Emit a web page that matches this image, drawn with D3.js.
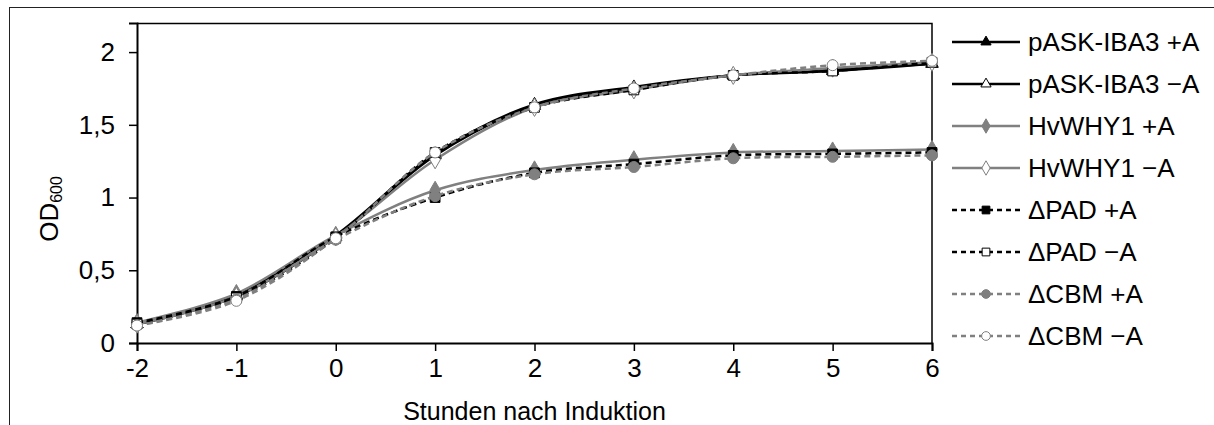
<!DOCTYPE html>
<html>
<head>
<meta charset="utf-8">
<script src="https://cdn.jsdelivr.net/npm/d3@7"></script>
<style>
  body { margin: 0; background: #fff; }
  text { font-family: "Liberation Sans", Arial, sans-serif; fill: #000; }
</style>
</head>
<body>
<div id="chart-area"></div>
<script>
// data
const hours = [-2, -1, 0, 1, 2, 3, 4, 5, 6];
const yTicks = [0, 0.5, 1, 1.5, 2];

const seriesNames = ["pASK-IBA3 +A", "pASK-IBA3 \u2212A", "HvWHY1 +A", "HvWHY1 \u2212A",
                     "\u0394PAD +A", "\u0394PAD \u2212A", "\u0394CBM +A", "\u0394CBM \u2212A"];

const paskPlus   = [0.13, 0.33, 0.74, 1.30, 1.64, 1.76, 1.84, 1.87, 1.92];
const paskMinus  = [0.13, 0.32, 0.73, 1.29, 1.63, 1.75, 1.84, 1.88, 1.92];
const why1Plus   = [0.14, 0.34, 0.74, 1.05, 1.19, 1.26, 1.31, 1.32, 1.33];
const why1Minus  = [0.13, 0.32, 0.73, 1.26, 1.62, 1.74, 1.84, 1.89, 1.93];
const padPlus    = [0.14, 0.32, 0.73, 1.00, 1.17, 1.23, 1.29, 1.30, 1.31];
const padMinus   = [0.13, 0.31, 0.72, 1.31, 1.62, 1.74, 1.84, 1.87, 1.93];
const cbmPlus    = [0.12, 0.30, 0.71, 1.01, 1.16, 1.21, 1.27, 1.28, 1.29];
const cbmMinus   = [0.12, 0.29, 0.72, 1.31, 1.62, 1.75, 1.84, 1.91, 1.94];

const allValues = [paskPlus, paskMinus, why1Plus, why1Minus, padPlus, padMinus, cbmPlus, cbmMinus];

// styles per series
const gray = "#808080";
const styles = [
  { line: "#000", dash: null, sym: d3.symbolTriangle, fill: "#000", stroke: "#000" },
  { line: "#000", dash: null, sym: d3.symbolTriangle, fill: "#fff", stroke: "#000" },
  { line: gray,   dash: null, sym: d3.symbolDiamond,  fill: gray,   stroke: gray },
  { line: gray,   dash: null, sym: d3.symbolDiamond,  fill: "#fff", stroke: gray },
  { line: "#000", dash: "6,4", sym: d3.symbolSquare,  fill: "#000", stroke: "#000" },
  { line: "#000", dash: "6,4", sym: d3.symbolSquare,  fill: "#fff", stroke: "#000" },
  { line: gray,   dash: "6,4", sym: d3.symbolCircle,  fill: gray,   stroke: gray },
  { line: gray,   dash: "6,4", sym: d3.symbolCircle,  fill: "#fff", stroke: gray }
];

const series = seriesNames.map((name, i) => ({
  name: name,
  style: styles[i],
  points: hours.map((h, j) => ({ h: h, v: allValues[i][j] }))
}));

// margins
let margin = { lft: 137, top: 23 };
let width = 932 - margin.lft;
let height = 343 - margin.top;

let svg = d3.select("#chart-area")
  .append("svg")
    .attr("width", 1214)
    .attr("height", 425);

// outer frame
svg.append("rect")
  .attr("x", 9.5).attr("y", 7.5)
  .attr("width", 1400).attr("height", 600)
  .attr("fill", "none")
  .attr("stroke", "#222")
  .attr("stroke-width", 1);

let g = svg.append("g")
  .attr("transform", `translate(${margin.lft}, ${margin.top})`);

let x = d3.scaleLinear().domain([-2, 6]).range([0, width]);
let y = d3.scaleLinear().domain([0, 2.2]).range([height, 0]);

// plot box (top + right)
g.append("path")
  .attr("d", `M0,0.5H${width}V${height}`)
  .attr("fill", "none")
  .attr("stroke", "#000")
  .attr("stroke-width", 1.5);

// axes
let xAxisCall = d3.axisBottom(x).tickValues(hours).tickSize(8).tickPadding(8)
  .tickFormat((d) => String(d));
let xAx = g.append("g")
  .attr("class", "x-axis")
  .attr("transform", `translate(0, ${height})`)
  .call(xAxisCall);

let yAxisCall = d3.axisLeft(y).tickValues(yTicks).tickSize(8).tickPadding(14)
  .tickFormat((d) => String(d).replace(".", ","));
let yAx = g.append("g")
  .attr("class", "y-axis")
  .call(yAxisCall);

[xAx, yAx].forEach((ax) => {
  ax.select(".domain").attr("stroke", "#000").attr("stroke-width", 2);
  ax.selectAll(".tick line").attr("stroke", "#000").attr("stroke-width", 1.5);
  ax.selectAll(".tick text")
    .attr("font-size", "26px")
    .attr("font-family", "Liberation Sans, Arial, sans-serif")
    .attr("fill", "#000");
});

// axis labels
g.append("text")
  .attr("x", width / 2)
  .attr("y", height + 77)
  .attr("font-size", "25px")
  .attr("text-anchor", "middle")
  .text("Stunden nach Induktion");

let yl = g.append("text")
  .attr("transform", `translate(${58 - margin.lft}, ${209 - margin.top}) rotate(-90)`)
  .attr("font-size", "26px")
  .attr("text-anchor", "middle");
yl.append("tspan").text("OD");
yl.append("tspan").attr("font-size", "16px").attr("dy", 4).text("600");

// lines
let line = d3.line()
  .x((d) => x(d.h))
  .y((d) => y(d.v))
  .curve(d3.curveCatmullRom.alpha(0.5));

series.forEach((s) => {
  g.append("path")
    .datum(s.points)
    .attr("d", line)
    .attr("fill", "none")
    .attr("stroke", s.style.line)
    .attr("stroke-width", 2.5)
    .attr("stroke-dasharray", s.style.dash);
  g.selectAll(null)
    .data(s.points)
    .enter()
    .append("path")
      .attr("transform", (d) => `translate(${x(d.h)}, ${y(d.v)})`)
      .attr("d", d3.symbol().type(s.style.sym).size(s.style.sym === d3.symbolTriangle ? 65 : 95))
      .attr("fill", s.style.fill)
      .attr("stroke", s.style.stroke)
      .attr("stroke-width", 1);
});

// legend
let legend = svg.append("g").attr("transform", "translate(952, 42)");
series.forEach((s, i) => {
  let row = legend.append("g").attr("transform", `translate(0, ${i * 42})`);
  row.append("line")
    .attr("x1", 0).attr("x2", 68)
    .attr("stroke", s.style.line)
    .attr("stroke-width", 2.5)
    .attr("stroke-dasharray", s.style.dash ? "5,4" : null);
  row.append("path")
    .attr("transform", "translate(34, 0)")
    .attr("d", d3.symbol().type(s.style.sym).size(s.style.sym === d3.symbolTriangle ? 45 : 60))
    .attr("fill", s.style.fill)
    .attr("stroke", s.style.stroke)
    .attr("stroke-width", 1);
  row.append("text")
    .attr("x", 76)
    .attr("y", 9)
    .attr("font-size", "26px")
    .text(s.name);
});
</script>
</body>
</html>
